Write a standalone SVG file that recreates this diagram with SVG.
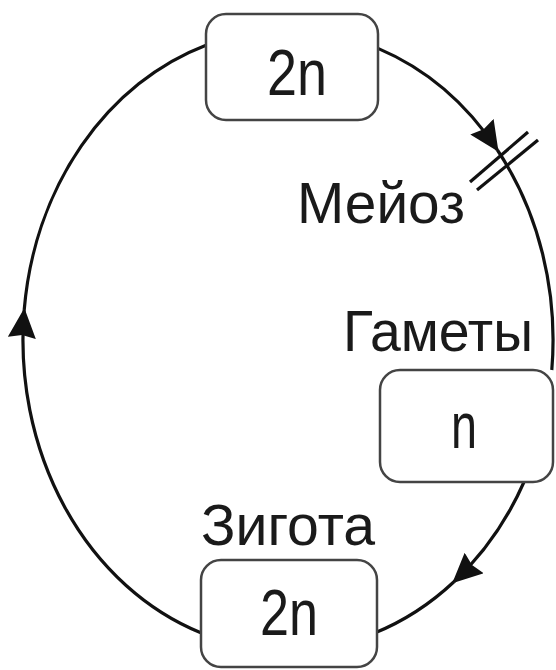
<svg xmlns="http://www.w3.org/2000/svg" width="556" height="670" viewBox="0 0 556 670">
  <defs>
    <style>
      .edge { fill: none; stroke: #111; stroke-width: 3.2; }
      .box { fill: #fff; stroke: #444; stroke-width: 2.5; }
      .lbl { font-family: "Liberation Sans", Arial, sans-serif; fill: #1a1a1a; }
      .big { font-size: 64px; text-anchor: middle; }
      .cap { font-size: 58px; }
    </style>
    <marker id="arr" markerUnits="userSpaceOnUse" markerWidth="34" markerHeight="30" refX="28" refY="14" orient="auto">
      <path d="M0,0 L30,14 L0,28 L3,14 z" fill="#111"/>
    </marker>
  </defs>

  <g id="connectors">
    <path class="edge" d="M378,48.4 A265,310 0 0 1 497.4,150" marker-end="url(#arr)"/>
    <path class="edge" d="M497.4,150 A265,310 0 0 1 551.8,370"/>
    <path class="edge" d="M524,482 A265,310 0 0 1 453.7,582" marker-end="url(#arr)"/>
    <path class="edge" d="M453.7,582 A265,310 0 0 1 374.6,633"/>
    <path class="edge" d="M201.4,633 A265,310 0 0 1 24.2,310" marker-end="url(#arr)"/>
    <path class="edge" d="M24.2,310 A265,310 0 0 1 206,45.2"/>
    <line class="edge" x1="470" y1="182" x2="528" y2="132"/>
    <line class="edge" x1="477" y1="190" x2="538" y2="140"/>
  </g>

  <g id="node-top">
    <rect class="box" x="206" y="14" width="172" height="106" rx="20"/>
    <text class="lbl big" x="297" y="95" textLength="60" lengthAdjust="spacingAndGlyphs">2n</text>
  </g>

  <g id="label-meiosis">
    <text class="lbl cap" x="297" y="223" textLength="168" lengthAdjust="spacingAndGlyphs">Мейоз</text>
  </g>

  <g id="node-gametes">
    <text class="lbl cap" x="343" y="351" textLength="190" lengthAdjust="spacingAndGlyphs">Гаметы</text>
    <rect class="box" x="380" y="370" width="173" height="112" rx="20"/>
    <text class="lbl big" x="464" y="448" textLength="26" lengthAdjust="spacingAndGlyphs">n</text>
  </g>

  <g id="node-zygote">
    <text class="lbl cap" x="201" y="545" textLength="174" lengthAdjust="spacingAndGlyphs">Зигота</text>
    <rect class="box" x="201" y="560" width="176" height="107" rx="20"/>
    <text class="lbl big" x="289" y="635" textLength="58" lengthAdjust="spacingAndGlyphs">2n</text>
  </g>
</svg>
